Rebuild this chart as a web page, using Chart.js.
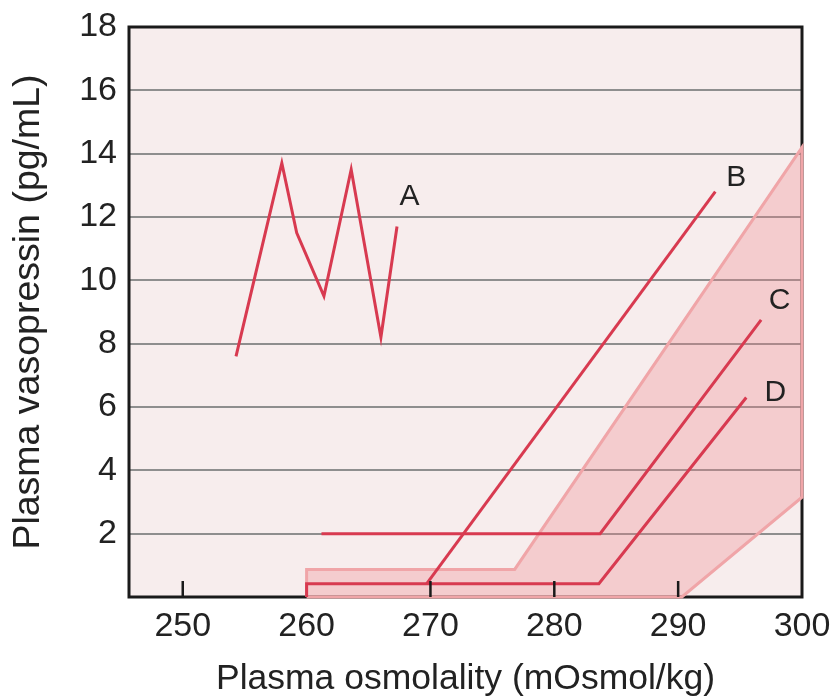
<!DOCTYPE html>
<html>
<head>
<meta charset="utf-8">
<script src="https://cdn.jsdelivr.net/npm/chart.js@4"></script>
<style>
  html, body { margin: 0; padding: 0; background: #ffffff; }
  #wrap { width: 834px; height: 699px; }
</style>
</head>
<body>
<div id="wrap"><canvas id="c" width="834" height="699"></canvas></div>
<script>
// ---- data ----
const xTickValues = [250, 260, 270, 280, 290, 300];
const yTickValues = [2, 4, 6, 8, 10, 12, 14, 16, 18];
const innerTickValues = [250, 270, 280, 290];

const seriesA = [
  {x: 254.3, y: 7.6}, {x: 258.0, y: 13.7}, {x: 259.2, y: 11.5},
  {x: 261.4, y: 9.5}, {x: 263.6, y: 13.5}, {x: 266.0, y: 8.2},
  {x: 267.3, y: 11.7}
];
const seriesB = [{x: 269.7, y: 0.42}, {x: 293.0, y: 12.8}];
const seriesC = [{x: 261.2, y: 2.0}, {x: 283.7, y: 2.0}, {x: 296.7, y: 8.75}];
const seriesD = [{x: 260.0, y: 0.0}, {x: 260.0, y: 0.42}, {x: 283.6, y: 0.42}, {x: 295.5, y: 6.3}];
const normalBand = [
  {x: 260.0, y: 0.0}, {x: 260.0, y: 0.87}, {x: 276.8, y: 0.87},
  {x: 300.0, y: 14.2}, {x: 300.0, y: 3.15}, {x: 290.3, y: 0.0}, {x: 260.0, y: 0.0}
];
const seriesLabels = ['A', 'B', 'C', 'D'];
const labelX = [268.3, 294.7, 298.2, 297.85];
const labelY = [12.65, 13.23, 9.34, 6.44];

const FONT = "'Liberation Sans', Arial, Helvetica, sans-serif";
const RED = '#d83a50';

const framePlugin = {
  id: 'frame',
  beforeDraw(chart) {
    const {ctx, chartArea: a} = chart;
    ctx.save();
    ctx.fillStyle = '#f7eded';
    ctx.fillRect(a.left, a.top, a.right - a.left, a.bottom - a.top);
    ctx.restore();
  },
  beforeDatasetsDraw(chart) {
    const {ctx, chartArea: a} = chart;
    ctx.save();
    ctx.strokeStyle = '#1a1a1a';
    ctx.lineWidth = 3;
    ctx.strokeRect(a.left, a.top, a.right - a.left, a.bottom - a.top);
    ctx.restore();
  },
  afterDatasetsDraw(chart) {
    const {ctx, chartArea: a, scales} = chart;
    ctx.save();
    ctx.strokeStyle = '#1a1a1a';
    ctx.lineWidth = 2.5;
    innerTickValues.forEach(v => {
      const px = scales.x.getPixelForValue(v);
      ctx.beginPath();
      ctx.moveTo(px, a.bottom);
      ctx.lineTo(px, a.bottom - 16);
      ctx.stroke();
    });
    ctx.fillStyle = '#222';
    ctx.font = '30px ' + FONT;
    ctx.textAlign = 'center';
    ctx.textBaseline = 'middle';
    seriesLabels.forEach((t, i) => {
      ctx.fillText(t, scales.x.getPixelForValue(labelX[i]), scales.y.getPixelForValue(labelY[i]));
    });
    ctx.restore();
  }
};

const lineDs = (data, label) => ({
  label, data, showLine: true, borderColor: RED, borderWidth: 3,
  pointRadius: 0, fill: false, tension: 0, clip: false, order: 1,
  borderJoinStyle: 'miter', borderCapStyle: 'butt'
});

new Chart(document.getElementById('c'), {
  type: 'scatter',
  data: {
    datasets: [
      lineDs(seriesA, 'A'),
      lineDs(seriesB, 'B'),
      lineDs(seriesC, 'C'),
      lineDs(seriesD, 'D'),
      {
        label: 'normal', data: normalBand, showLine: true,
        borderColor: '#f0a5a8', borderWidth: 3,
        backgroundColor: 'rgba(238,130,135,0.30)',
        fill: 'shape', pointRadius: 0, tension: 0, clip: false, order: 10
      }
    ]
  },
  options: {
    responsive: false,
    animation: false,
    layout: { padding: { left: 0, top: 27, right: 32, bottom: 0 } },
    plugins: { legend: { display: false }, tooltip: { enabled: false } },
    scales: {
      x: {
        type: 'linear', min: 245.66, max: 300,
        afterBuildTicks: s => { s.ticks = xTickValues.map(v => ({value: v})); },
        afterFit: s => { s.height = 102; s.paddingLeft = 0; s.paddingRight = 0; },
        grid: { display: false, drawTicks: false },
        border: { display: false },
        ticks: { color: '#222', padding: 9, font: { family: FONT, size: 34 }, maxRotation: 0, autoSkip: false },
        title: { display: true, text: 'Plasma osmolality (mOsmol/kg)', color: '#222',
                 font: { family: FONT, size: 35.5, lineHeight: 1.1 }, padding: { top: 0, bottom: 0 } }
      },
      y: {
        type: 'linear', min: 0, max: 18,
        afterBuildTicks: s => { s.ticks = yTickValues.map(v => ({value: v})); },
        afterFit: s => { s.width = 129; s.paddingTop = 0; s.paddingBottom = 0; },
        grid: { color: '#8e8e8e', lineWidth: 2, drawTicks: false },
        border: { display: false },
        ticks: { color: '#222', padding: 12, font: { family: FONT, size: 34 }, autoSkip: false },
        title: { display: true, text: 'Plasma vasopressin (pg/mL)', color: '#222',
                 font: { family: FONT, size: 37.5, lineHeight: 1.1 }, padding: { top: 8, bottom: 0 } }
      }
    }
  },
  plugins: [framePlugin]
});
</script>
</body>
</html>
